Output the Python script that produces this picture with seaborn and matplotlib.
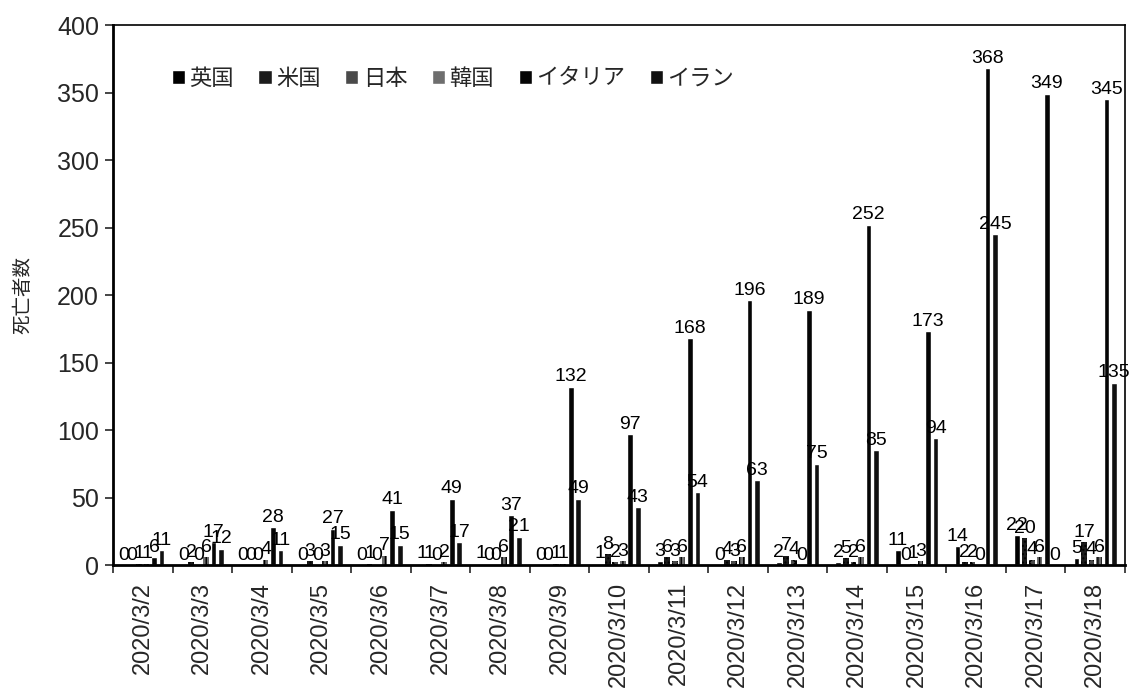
import numpy as np
import pandas as pd
import matplotlib
matplotlib.use("Agg")
import matplotlib.pyplot as plt
import seaborn as sns

# Daily deaths by country
dates = ["2020/3/2", "2020/3/3", "2020/3/4", "2020/3/5", "2020/3/6", "2020/3/7",
         "2020/3/8", "2020/3/9", "2020/3/10", "2020/3/11", "2020/3/12", "2020/3/13",
         "2020/3/14", "2020/3/15", "2020/3/16", "2020/3/17", "2020/3/18"]
countries = ["英国", "米国", "日本", "韓国", "イタリア", "イラン"]
uk = [0, 0, 0, 0, 0, 1, 1, 0, 1, 3, 0, 2, 2, 11, 14, 22, 5]
us = [0, 2, 0, 3, 1, 1, 0, 0, 8, 6, 4, 7, 5, 0, 2, 20, 17]
japan = [1, 0, 0, 0, 0, 0, 0, 1, 2, 3, 3, 4, 2, 1, 2, 4, 4]
korea = [1, 6, 4, 3, 7, 2, 6, 1, 3, 6, 6, 0, 6, 3, 0, 6, 6]
italy = [6, 17, 28, 27, 41, 49, 37, 132, 97, 168, 196, 189, 252, 173, 368, 349, 345]
iran = [11, 12, 11, 15, 15, 17, 21, 49, 43, 54, 63, 75, 85, 94, 245, 0, 135]
y_ticks = [0, 50, 100, 150, 200, 250, 300, 350, 400]

series = [uk, us, japan, korea, italy, iran]
df = pd.DataFrame(
    [(d, c, v) for c, vals in zip(countries, series) for d, v in zip(dates, vals)],
    columns=["date", "country", "deaths"],
)

sns.set_theme(style="white")
plt.rcParams["font.family"] = ["Liberation Sans", "Noto Sans CJK JP", "DejaVu Sans"]

palette = {"英国": "#000000", "米国": "#1c1c1c", "日本": "#4a4a4a",
           "韓国": "#6e6e6e", "イタリア": "#050505", "イラン": "#111111"}

fig = plt.figure(figsize=(11.31, 6.93), dpi=100)
ax = fig.add_axes([0.0999, 0.1847, 0.8948, 0.7792])

sns.barplot(data=df, x="date", y="deaths", hue="country", hue_order=countries,
            order=dates, palette=palette, width=0.76, gap=0.25, saturation=1,
            ax=ax, legend=True)

hatches = {"米国": "....", "日本": "xxxx", "韓国": "||||"}
for cont, name in zip(ax.containers, countries):
    if name in hatches:
        for p in cont:
            p.set_hatch(hatches[name])
            p.set_edgecolor("#000000")
            p.set_linewidth(0)
    ax.bar_label(cont, fmt="%d", fontsize=14, padding=1, color="black")

ax.set_xlim(-0.5, len(dates) - 0.5)
ax.set_ylim(0, 400)
ax.set_yticks(y_ticks)
ax.tick_params(axis="y", labelsize=18, length=6, width=1.2, direction="out",
               left=True, pad=4)
ax.set_xticks(range(len(dates)))
ax.set_xticklabels(dates, rotation=90, fontsize=17)
ax.tick_params(axis="x", which="major", length=0, pad=12)
ax.set_xticks(np.arange(-0.5, len(dates)), minor=True)
ax.tick_params(axis="x", which="minor", length=6, width=1.2, direction="out",
               bottom=True)

ax.set_xlabel("")
ax.set_ylabel("死亡者数", fontsize=14, labelpad=18)

for s in ax.spines.values():
    s.set_visible(True)
    s.set_color("black")
    s.set_linewidth(1.2)
ax.spines["left"].set_linewidth(2)
ax.spines["bottom"].set_linewidth(2)

handles, labels = ax.get_legend_handles_labels()
ax.legend(handles, labels, ncol=6, loc="center left", bbox_to_anchor=(0.047, 0.9),
          frameon=False, fontsize=16, handlelength=0.6, handleheight=0.6,
          handletextpad=0.2, columnspacing=1.1, borderpad=0)

fig.savefig("out.png", dpi=100)
